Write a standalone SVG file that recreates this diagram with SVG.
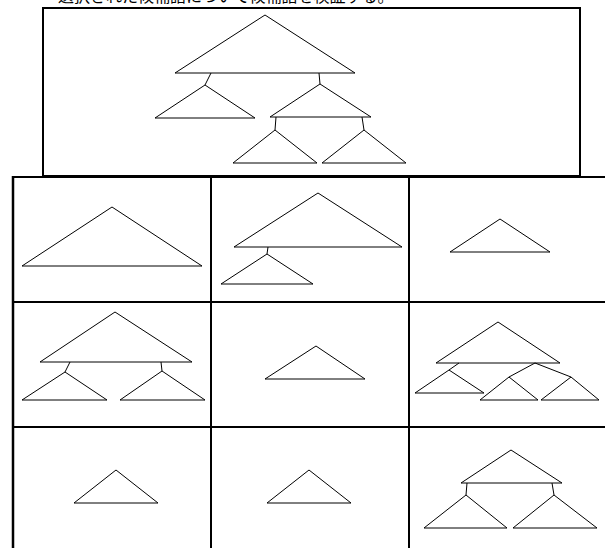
<svg xmlns="http://www.w3.org/2000/svg" width="605" height="548" viewBox="0 0 605 548">
<style>
.t{fill:none;stroke:#000;stroke-width:1;stroke-linejoin:miter}
.c{fill:none;stroke:#000;stroke-width:1}
.g{fill:none;stroke:#000;stroke-width:2}
.cap{font-family:"Noto Sans CJK JP","Noto Sans CJK SC",sans-serif;font-size:16px;fill:#000}
</style>
<rect width="605" height="548" fill="#fff"/>
<text class="cap" x="58" y="2">選択された候補語について候補語を検証する。</text>
<g id="top-box">
<rect x="43" y="8" width="537" height="168" class="g"/>
</g>
<g id="grid">
<line x1="13" y1="177" x2="605" y2="177" class="g"/>
<line x1="13" y1="302" x2="605" y2="302" class="g"/>
<line x1="13" y1="427" x2="605" y2="427" class="g"/>
<line x1="13" y1="176" x2="13" y2="548" stroke="#000" stroke-width="2.5"/>
<line x1="211" y1="177" x2="211" y2="548" class="g"/>
<line x1="409" y1="177" x2="409" y2="548" class="g"/>
</g>
<g id="tree-top">
<polygon class="t" points="265,15 175,73 355,73"/>
<polygon class="t" points="205,85 155,118 255,118"/>
<polygon class="t" points="320,84 270,117 371,117"/>
<polygon class="t" points="275,130 233,163 317,163"/>
<polygon class="t" points="364,130 322,163 406,163"/>
</g>
<g id="cell-1-1"><polygon class="t" points="112,207 22,266 202,266"/></g>
<g id="cell-1-2">
<polygon class="t" points="318,193 234,247 402,247"/>
<polygon class="t" points="267,254 221,284 313,284"/>
</g>
<g id="cell-1-3"><polygon class="t" points="500,219 450,252 550,252"/></g>
<g id="cell-2-1">
<polygon class="t" points="115,312 40,362 192,362"/>
<polygon class="t" points="65,372 22,400 107,400"/>
<polygon class="t" points="162,371 120,400 205,400"/>
</g>
<g id="cell-2-2"><polygon class="t" points="316,346 265,379 365,379"/></g>
<g id="cell-2-3">
<polygon class="t" points="498,322 436,363 560,363"/>
<polygon class="t" points="449,370 415,393 484,393"/>
<polygon class="t" points="509,377 480,400 538,400"/>
<polygon class="t" points="571,377 541,400 599,400"/>
</g>
<g id="cell-3-1"><polygon class="t" points="116,470 74,503 158,503"/></g>
<g id="cell-3-2"><polygon class="t" points="309,470 267,503 351,503"/></g>
<g id="cell-3-3">
<polygon class="t" points="511,450 461,483 562,483"/>
<polygon class="t" points="466,495 424,528 507,528"/>
<polygon class="t" points="554,495 513,528 597,528"/>
</g>
<g id="connectors">
<line class="c" x1="211" y1="73" x2="205" y2="85"/>
<line class="c" x1="319" y1="73" x2="320" y2="84"/>
<line class="c" x1="276" y1="117" x2="275" y2="130"/>
<line class="c" x1="362" y1="117" x2="364" y2="130"/>
<line class="c" x1="268" y1="247" x2="267" y2="254"/>
<line class="c" x1="70" y1="362" x2="65" y2="372"/>
<line class="c" x1="161" y1="362" x2="162" y2="371"/>
<line class="c" x1="459" y1="363" x2="449" y2="370"/>
<polyline class="c" points="509,377 535,363 571,377"/>
<line class="c" x1="467" y1="483" x2="466" y2="495"/>
<line class="c" x1="552" y1="483" x2="554" y2="495"/>
</g>
</svg>
